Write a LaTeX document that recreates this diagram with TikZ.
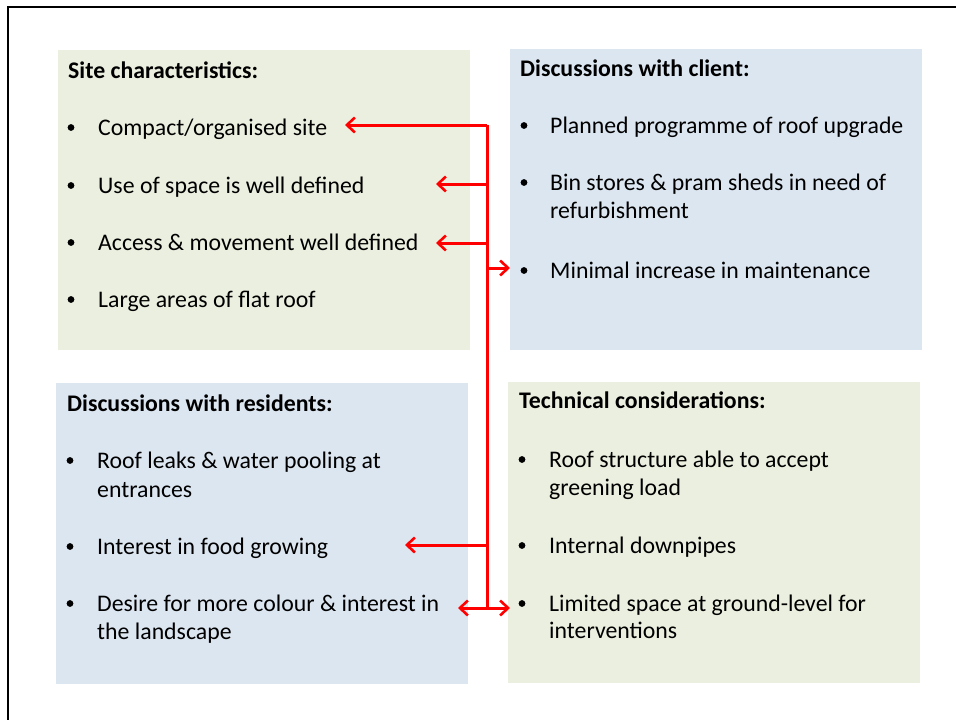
\documentclass[tikz,border=0pt]{standalone}
\usepackage{fontspec}
\setmainfont{Carlito}
\usetikzlibrary{arrows.meta}
\definecolor{boxgreen}{HTML}{EBEFDF}
\definecolor{boxblue}{HTML}{DCE6F1}
\definecolor{arrred}{HTML}{FF0000}
\tikzset{
  ttl/.style={anchor=base west, inner sep=0pt, font=\fontsize{23.8}{28}\selectfont\bfseries},
  txt/.style={anchor=base west, inner sep=0pt, font=\fontsize{23.8}{28}\selectfont},
  bul/.style={circle, fill=black, inner sep=0pt, minimum size=6.8pt, yshift=7.5pt},
  link/.style={draw=arrred, line width=3pt},
  linkarr/.style={link, -{Straight Barb[length=8pt, width=15pt, line width=2.6pt]}},
  frame/.style={draw=black, line width=2.4pt}
}
\begin{document}
\begin{tikzpicture}[x=1pt,y=-1pt]
\useasboundingbox (0,0) rectangle (956,720);
% frame
\coordinate (fTop) at (956,7);
\coordinate (fCorner) at (8,7);
\coordinate (fBot) at (8,720);
\draw[frame] (fTop) -- (fCorner) -- (fBot);
% panels
\fill[boxgreen] (58,50) rectangle (470,350);
\fill[boxblue] (510,49) rectangle (922,350);
\fill[boxblue] (56,383) rectangle (468,684);
\fill[boxgreen] (508,382) rectangle (920,683);
% Site characteristics
\node[ttl] (t1) at (68,78) {Site characteristics:};
\node[bul] (b11) at (71,135) {}; \node[txt] (s1) at (98,135) {Compact/organised site};
\node[bul] (b12) at (71,193) {}; \node[txt] (s2) at (98,193) {Use of space is well defined};
\node[bul] (b13) at (71,250) {}; \node[txt] (s3) at (98,250) {Access \& movement well defined};
\node[bul] (b14) at (71,307) {}; \node[txt] (s4) at (98,307) {Large areas of flat roof};
% Client
\node[ttl] (t2) at (520,76) {Discussions with client:};
\node[bul] (b21) at (524,133) {}; \node[txt] (c1) at (550,133) {Planned programme of roof upgrade};
\node[bul] (b22) at (524,190) {}; \node[txt] (c2) at (550,190) {Bin stores \& pram sheds in need of};
\node[txt] (c2b) at (550,218) {refurbishment};
\node[bul] (b23) at (524,278) {}; \node[txt] (c3) at (550,278) {Minimal increase in maintenance};
% Residents
\node[ttl] (t3) at (67,411) {Discussions with residents:};
\node[bul] (b31) at (70,468) {}; \node[txt] (r1) at (97,468) {Roof leaks \& water pooling at};
\node[txt] (r1b) at (97,497) {entrances};
\node[bul] (b32) at (70,554) {}; \node[txt] (r2) at (97,554) {Interest in food growing};
\node[bul] (b33) at (70,611) {}; \node[txt] (r3) at (97,611) {Desire for more colour \& interest in};
\node[txt] (r3b) at (97,639) {the landscape};
% Technical
\node[ttl] (t4) at (519,408) {Technical considerations:};
\node[bul] (b41) at (522,467) {}; \node[txt] (k1) at (549,467) {Roof structure able to accept};
\node[txt] (k1b) at (549,495) {greening load};
\node[bul] (b42) at (522,553) {}; \node[txt] (k2) at (549,553) {Internal downpipes};
\node[bul] (b43) at (522,611) {}; \node[txt] (k3) at (549,611) {Limited space at ground-level for};
\node[txt] (k3b) at (549,638) {interventions};
% connectors
\coordinate (j1) at (487,125);
\coordinate (j2) at (487,184);
\coordinate (j3) at (487,243);
\coordinate (j4) at (487,268);
\coordinate (j5) at (487,545);
\coordinate (j6) at (487,608);
\coordinate (e1) at (345,125);
\coordinate (e2) at (436,184);
\coordinate (e3) at (436,243);
\coordinate (e4) at (510,268);
\coordinate (e5) at (405,545);
\coordinate (e6) at (458,608);
\coordinate (e7) at (510,608);
\draw[link] (j1) -- (j6);
\draw[linkarr] (j1) -- (e1);
\draw[linkarr] (j2) -- (e2);
\draw[linkarr] (j3) -- (e3);
\draw[linkarr] (j4) -- (e4);
\draw[linkarr] (j5) -- (e5);
\draw[linkarr] (j6) -- (e6);
\draw[linkarr] (j6) -- (e7);
\end{tikzpicture}
\end{document}
